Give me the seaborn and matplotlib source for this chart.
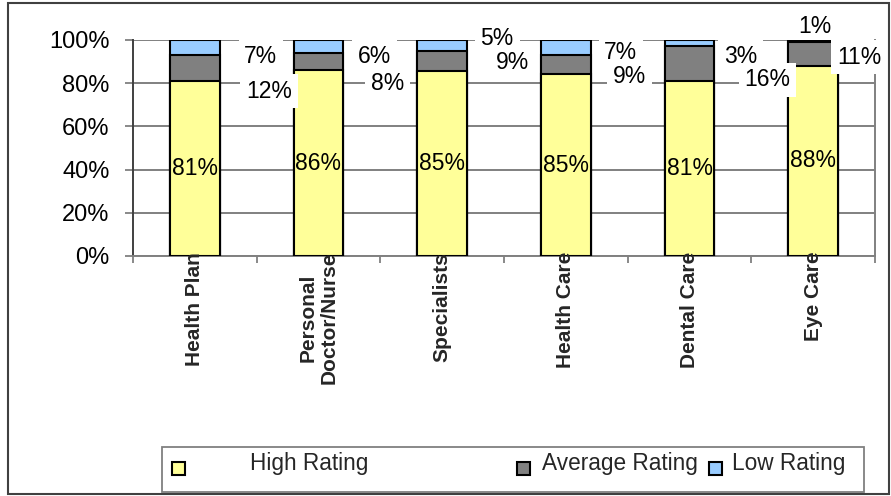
import numpy as np
import pandas as pd
import matplotlib
matplotlib.use("Agg")
import matplotlib.pyplot as plt
import seaborn as sns
from matplotlib.patches import Rectangle

# Survey ratings (percent of respondents)
categories = ["Health Plan", "Personal\nDoctor/Nurse", "Specialists",
              "Health Care", "Dental Care", "Eye Care"]
high_rating = [81, 86, 85, 85, 81, 88]
average_rating = [12, 8, 9, 9, 16, 11]
low_rating = [7, 6, 5, 7, 3, 1]
series_names = ["High Rating", "Average Rating", "Low Rating"]
ytick_values = [0, 20, 40, 60, 80, 100]
ytick_labels = ["0%", "20%", "40%", "60%", "80%", "100%"]

colors = {"High Rating": "#FFFF99", "Average Rating": "#808080", "Low Rating": "#99CCFF"}

# offsets (pixels) of the small-segment labels from their segment centre
avg_offsets = [(74, -23), (69, -22), (70, -2), (64, -12), (78, -16), (46, -3)]
low_offsets = [(66, -9), (56, -10), (55, 7), (55, -5), (51, -13), (2, 15)]

sns.set_theme(style="white")
plt.rcParams["font.family"] = ["Liberation Sans", "DejaVu Sans"]

W, H = 891, 496
fig = plt.figure(figsize=(W / 100, H / 100), dpi=100)
fig.patch.set_facecolor("white")
ax = fig.add_axes([133 / W, 1 - 256 / H, (875 - 133) / W, (256 - 40) / H])
ax.set_facecolor("white")

df = pd.DataFrame({"category": categories,
                   "High Rating": high_rating,
                   "Average Rating": average_rating,
                   "Low Rating": low_rating})
total = df[series_names].sum(axis=1)
share = df[series_names].div(total, axis=0) * 100
cum = share.cumsum(axis=1)
centers = cum - share / 2

# 100% stacked bars: draw cumulative layers from the top series down
for name in reversed(series_names):
    sns.barplot(x=df["category"], y=cum[name], color=colors[name], width=0.404,
                edgecolor="black", linewidth=1.5, saturation=1, errorbar=None,
                ax=ax, zorder=3)

ax.set_xlim(-0.5, len(categories) - 0.5)
ax.set_ylim(0, 100)
ax.set_xlabel("")
ax.set_ylabel("")

# axes styling
ax.set_axisbelow(True)
ax.yaxis.grid(True, color="#808080", linewidth=1.4)
ax.set_yticks(ytick_values)
ax.set_yticklabels(ytick_labels, fontsize=17, color="black")
ax.tick_params(axis="y", which="major", length=6, width=1.3, color="#808080",
               pad=11, left=True)
ax.set_xticks(range(len(categories)))
ax.set_xticklabels(categories, rotation=90, fontsize=15, fontweight="bold",
                   ha="center", va="top", multialignment="center", linespacing=1.15)
ax.tick_params(axis="x", which="major", length=0, pad=-3)
ax.set_xticks(np.arange(-0.5, len(categories), 1.0), minor=True)
ax.tick_params(axis="x", which="minor", length=5, width=1.3, color="#808080",
               direction="out", bottom=True)
ax.xaxis.set_zorder(6)
for side, col in [("left", "#404040"), ("bottom", "#808080"), ("right", "#808080")]:
    ax.spines[side].set_visible(True)
    ax.spines[side].set_color(col)
    ax.spines[side].set_linewidth(1.4)
ax.spines["top"].set_visible(False)

# data labels
box = dict(boxstyle="square,pad=0.25", fc="white", ec="none")
for i in range(len(categories)):
    ax.text(i, centers.loc[i, "High Rating"], f"{high_rating[i]}%", ha="center",
            va="center", fontsize=16.5, color="black", zorder=5)
for name, vals, offs, z in [("Low Rating", low_rating, low_offsets, 2.8),
                            ("Average Rating", average_rating, avg_offsets, 5)]:
    for i in range(len(categories)):
        ax.annotate(f"{vals[i]}%", xy=(i, centers.loc[i, name]), xytext=offs[i],
                    textcoords="offset pixels", ha="center", va="center",
                    fontsize=16.5, color="black", bbox=box, zorder=z,
                    annotation_clip=False)

# legend
def px_rect(x0, y0, x1, y1, **kw):
    return Rectangle((x0 / W, 1 - y1 / H), (x1 - x0) / W, (y1 - y0) / H,
                     transform=fig.transFigure, **kw)

fig.add_artist(px_rect(162, 447, 864, 492, fill=False, ec="#808080", lw=1.3))
legend_items = [("High Rating", 172, 250), ("Average Rating", 517, 542),
                ("Low Rating", 709, 732)]
for name, mx, tx in legend_items:
    fig.add_artist(px_rect(mx, 462, mx + 13, 475, fc=colors[name], ec="black", lw=1.5))
    fig.text(tx / W, 1 - 470 / H, name, fontsize=16.3, va="baseline", ha="left")

# chart frame
fig.add_artist(px_rect(8, 3, 889, 494, fill=False, ec="#404040", lw=1.5))

fig.savefig("out.png", dpi=100)
